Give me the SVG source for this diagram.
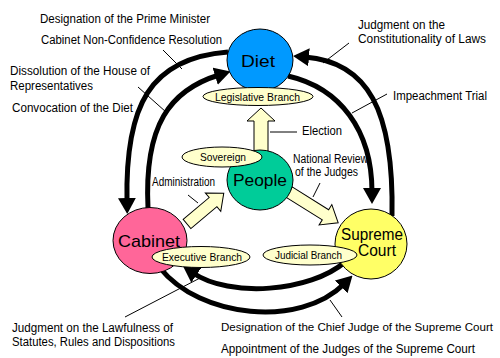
<svg xmlns="http://www.w3.org/2000/svg" width="500" height="358" viewBox="0 0 500 358">
<style>
  .t { font-family: "Liberation Sans", Arial, sans-serif; font-size: 12px; fill: #000; }
  .ts { font-family: "Liberation Sans", Arial, sans-serif; font-size: 11.2px; fill: #000; }
  .e { font-family: "Liberation Sans", Arial, sans-serif; font-size: 11px; fill: #000; }
  .big { font-family: "Liberation Sans", Arial, sans-serif; fill: #000; }
  .arc { fill: none; stroke: #000; stroke-width: 5; marker-end: url(#head); }
  .lead { stroke: #000; stroke-width: 1; fill: none; }
  .blk { fill: #FFFFCC; stroke: #000; stroke-width: 1; }
  .node { stroke: #000; stroke-width: 1; }
  .lab { fill: #FFFFCC; stroke: #000; stroke-width: 1; }
</style>
<defs>
  <marker id="head" markerUnits="userSpaceOnUse" markerWidth="16" markerHeight="18" viewBox="0 0 16 18" refX="4" refY="9" orient="auto">
    <path d="M0,0 L16,9 L0,18 z" fill="#000"/>
  </marker>
</defs>
<rect width="500" height="358" fill="#fff"/>

<g id="connectors">
  <path class="arc" d="M228,52 C150,58 125,105 127,202"/>
  <path class="arc" d="M148,208 C144,125 170,90 219,75"/>
  <path class="arc" d="M392,216 C394,110 368,62 305,57"/>
  <path class="arc" d="M288,76 C340,88 372,130 372,192"/>
  <path class="arc" d="M160,268 C200,318 300,328 344,284"/>
  <path class="arc" d="M345,262 C310,292 230,298 193,273"/>
  <polygon class="blk" points="261,108 275,121 268,121 268,152 254,152 254,121 247,121"/>
  <polygon class="blk" transform="translate(187,224) rotate(-40)" points="0,-6 34,-6 34,-12 48,0 34,12 34,6 0,6"/>
  <polygon class="blk" transform="translate(289,192) rotate(32)" points="0,-6 43,-6 43,-12 58,0 43,12 43,6 0,6"/>
  <line class="lead" x1="163" y1="50" x2="182" y2="69"/>
  <line class="lead" x1="138" y1="87" x2="166" y2="112"/>
  <line class="lead" x1="349" y1="43" x2="323" y2="63"/>
  <line class="lead" x1="387" y1="94" x2="352" y2="113"/>
  <line class="lead" x1="270" y1="132" x2="297" y2="132"/>
  <line class="lead" x1="320" y1="183" x2="313" y2="197"/>
  <line class="lead" x1="188" y1="195" x2="198" y2="203"/>
  <line class="lead" x1="125" y1="317" x2="200" y2="278"/>
  <line class="lead" x1="342" y1="317" x2="330" y2="300"/>
</g>

<g id="diet">
  <ellipse class="node" cx="260" cy="60" rx="33" ry="31" fill="#0099FF"/>
  <text class="big" x="241" y="67" font-size="17" textLength="34" lengthAdjust="spacingAndGlyphs">Diet</text>
  <ellipse class="lab" cx="258" cy="96.5" rx="55" ry="9"/>
  <text class="e" x="215" y="100.5" textLength="85" lengthAdjust="spacingAndGlyphs">Legislative Branch</text>
</g>

<g id="people">
  <ellipse class="node" cx="260" cy="180" rx="33" ry="30" fill="#00CC99"/>
  <ellipse class="lab" cx="222" cy="157" rx="40" ry="10"/>
  <text class="e" x="200" y="161" textLength="46" lengthAdjust="spacingAndGlyphs">Sovereign</text>
  <text class="big" x="233" y="186" font-size="16" textLength="54" lengthAdjust="spacingAndGlyphs">People</text>
</g>

<g id="cabinet">
  <ellipse class="node" cx="150" cy="240.5" rx="37" ry="33" fill="#FF6699"/>
  <text class="big" x="118" y="247" font-size="17" textLength="62" lengthAdjust="spacingAndGlyphs">Cabinet</text>
  <ellipse class="lab" cx="201" cy="257" rx="49" ry="10.5"/>
  <text class="e" x="162" y="261" textLength="80" lengthAdjust="spacingAndGlyphs">Executive Branch</text>
</g>

<g id="supreme-court">
  <ellipse class="node" cx="371" cy="244" rx="36" ry="35" fill="#FFFF66"/>
  <ellipse class="lab" cx="310" cy="255" rx="47" ry="10"/>
  <text class="e" x="275" y="259" textLength="67" lengthAdjust="spacingAndGlyphs">Judicial Branch</text>
  <text class="big" x="341" y="240" font-size="16" textLength="62" lengthAdjust="spacingAndGlyphs">Supreme</text>
  <text class="big" x="358" y="256" font-size="16" textLength="38" lengthAdjust="spacingAndGlyphs">Court</text>
</g>

<g id="labels">
  <text class="t" x="40" y="23" textLength="170" lengthAdjust="spacingAndGlyphs">Designation of the Prime Minister</text>
  <text class="t" x="41" y="44" textLength="181" lengthAdjust="spacingAndGlyphs">Cabinet Non-Confidence Resolution</text>
  <text class="t" x="10" y="75" textLength="140" lengthAdjust="spacingAndGlyphs">Dissolution of the House of</text>
  <text class="t" x="10" y="90" textLength="83" lengthAdjust="spacingAndGlyphs">Representatives</text>
  <text class="t" x="12" y="112" textLength="121" lengthAdjust="spacingAndGlyphs">Convocation of the Diet</text>
  <text class="t" x="358" y="29" textLength="87" lengthAdjust="spacingAndGlyphs">Judgment on the</text>
  <text class="t" x="358" y="43" textLength="128" lengthAdjust="spacingAndGlyphs">Constitutionality of Laws</text>
  <text class="t" x="393" y="100" textLength="94" lengthAdjust="spacingAndGlyphs">Impeachment Trial</text>
  <text class="t" x="302" y="135" textLength="40" lengthAdjust="spacingAndGlyphs">Election</text>
  <text class="t" x="293" y="163" textLength="75" lengthAdjust="spacingAndGlyphs">National Review</text>
  <text class="t" x="295" y="176" textLength="63" lengthAdjust="spacingAndGlyphs">of the Judges</text>
  <text class="t" x="152" y="186" textLength="63" lengthAdjust="spacingAndGlyphs">Administration</text>
  <text class="t" x="12" y="332" textLength="161" lengthAdjust="spacingAndGlyphs">Judgment on the Lawfulness of</text>
  <text class="t" x="12" y="346" textLength="163" lengthAdjust="spacingAndGlyphs">Statutes, Rules and Dispositions</text>
  <text class="ts" x="221" y="331" textLength="272" lengthAdjust="spacingAndGlyphs">Designation of the Chief Judge of the Supreme Court</text>
  <text class="t" x="221" y="353" textLength="254" lengthAdjust="spacingAndGlyphs">Appointment of the Judges of the Supreme Court</text>
</g>
</svg>
